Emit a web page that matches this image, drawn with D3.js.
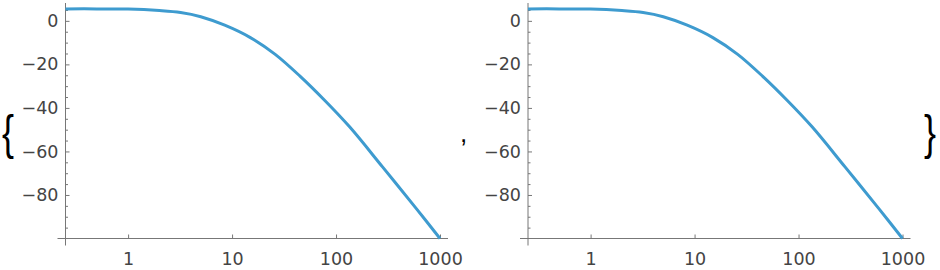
<!DOCTYPE html>
<html>
<head>
<meta charset="utf-8">
<script src="https://cdn.jsdelivr.net/npm/d3@7"></script>
<style>
  body { margin: 0; background: #fff; }
  .tick text { font-family: 'DejaVu Sans', sans-serif; font-size: 17.5px; fill: #444; }
  .tick line { stroke: #777; }
  .domain { display: none; }
</style>
</head>
<body>
<svg id="chart" width="940" height="270"></svg>
<script>
// magnitude curve (frequency, dB)
var freq = [ 0.25, 0.5, 1, 2, 3.2, 5, 8.5, 15, 26, 45, 78, 135, 280, 600, 1000 ];
var gain = [ 5.5, 5.5, 5.4, 4.7, 3.8, 1.9, -2.0, -7.7, -15.4, -25.4, -36.6, -48.7, -67.1, -86.6, -100 ];

var xTicks = [ 1, 10, 100, 1000 ];
var xTickLabels = [ '1', '10', '100', '1000' ];
var yTicks = [ 0, -20, -40, -60, -80 ];
var yMinor = d3.range( 5, -100, -5 ).filter( v => yTicks.indexOf( v ) < 0 );

var panels = [ 0, 462.5 ];

var svg = d3.select( '#chart' );

var data = freq.map( ( f, i ) => ( { f: f, g: gain[ i ] } ) );

panels.forEach( function( dx ) {

  var x = d3.scaleLog()
    .domain( [ 0.25, 1000 ] )
    .range( [ 65.5 + dx, 440 + dx ] );

  var y = d3.scaleLinear()
    .domain( [ -100, 8.2 ] )
    .range( [ 238.5, 3 ] );

  var g = svg.append( 'g' );

  // axis lines, a little past the crossing as in the original
  g.append( 'line' )
    .attr( 'x1', x( 0.25 ) - 8 ).attr( 'x2', x( 1000 ) + 8 )
    .attr( 'y1', y( -100 ) ).attr( 'y2', y( -100 ) )
    .style( 'stroke', '#777' );

  g.append( 'line' )
    .attr( 'x1', x( 0.25 ) ).attr( 'x2', x( 0.25 ) )
    .attr( 'y1', y( 8.2 ) ).attr( 'y2', y( -100 ) + 7 )
    .style( 'stroke', '#777' );

  g.append( 'g' )
    .attr( 'transform', 'translate(0,' + y( -100 ) + ')' )
    .call( d3.axisBottom( x )
      .tickValues( xTicks )
      .tickFormat( ( d, i ) => xTickLabels[ i ] )
      .tickSize( -4 )
      .tickPadding( 14 ) );

  g.append( 'g' )
    .attr( 'transform', 'translate(' + x( 0.25 ) + ',0)' )
    .call( d3.axisLeft( y )
      .tickValues( yTicks )
      .tickFormat( d3.format( '' ) )
      .tickSize( -4 )
      .tickPadding( 7 ) );

  g.append( 'g' )
    .attr( 'transform', 'translate(' + x( 0.25 ) + ',0)' )
    .call( d3.axisLeft( y )
      .tickValues( yMinor )
      .tickFormat( '' )
      .tickSize( -2.5 ) );

  var line = d3.line()
    .curve( d3.curveCatmullRom.alpha( 0.5 ) )
    .x( d => x( d.f ) )
    .y( d => y( d.g ) );

  g.append( 'path' )
    .datum( data )
    .attr( 'd', line )
    .style( 'fill', 'none' )
    .style( 'stroke', '#3e9bcf' )
    .style( 'stroke-width', 3 );
} );

// list braces and separator
svg.append( 'text' )
  .attr( 'transform', 'translate(2,149) scale(1,1.35)' )
  .style( 'font-family', 'Liberation Sans, sans-serif' )
  .style( 'font-size', '36px' )
  .style( 'font-weight', 300 )
  .text( '{' );

svg.append( 'text' )
  .attr( 'x', 460 )
  .attr( 'y', 142 )
  .style( 'font-family', 'Liberation Sans, sans-serif' )
  .style( 'font-size', '26px' )
  .text( ',' );

svg.append( 'text' )
  .attr( 'transform', 'translate(924,149) scale(1,1.35)' )
  .style( 'font-family', 'Liberation Sans, sans-serif' )
  .style( 'font-size', '36px' )
  .style( 'font-weight', 300 )
  .text( '}' );
</script>
</body>
</html>
